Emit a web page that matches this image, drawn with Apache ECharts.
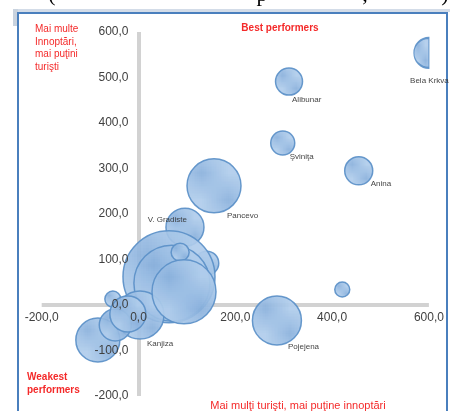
<!DOCTYPE html>
<html>
<head>
<meta charset="utf-8">
<script src="https://cdn.jsdelivr.net/npm/echarts@6/dist/echarts.min.js"></script>
<style>
html, body { margin: 0; padding: 0; background: #fff; }
#main { width: 450px; height: 411px; }
</style>
</head>
<body>
<div id="main"></div>
<script>
// bubble data (drawing order = overlap order)
var names = ['', 'V. Gradiste', '', '', '', 'Kanjiza', '', '', '', '', '',
    'Pancevo', 'Alibunar', 'Şviniţa', 'Anina', 'Bela Krkva', 'Pojejena', ''];
var xVals = [141, 96, 63, 69, 86, 3, -84, -48, -53, -22, 94,
    156, 311, 298, 455, 600, 286, 421];
var yVals = [92, 171, 62, 48, 116, -22, -77, -44, 13, -20, 29,
    262, 491, 356, 295, 554, -34, 34];
var sizes = [144, 361, 2116, 1444, 81, 576, 484, 256, 64, 324, 1024,
    729, 182, 144, 196, 225, 600, 56];

var xTicks = [-200, 0, 200, 400, 600];
var yTicks = [-200, -100, 0, 100, 200, 300, 400, 500, 600];

var FONT = '"Liberation Sans", Arial, sans-serif';
var RED = '#f42a2a';
var GRID = { left: 41.7, right: 21.1, top: 32, bottom: 15 };

// label placement per named bubble
var labelPlace = {
    'V. Gradiste': { pos: ['50%', '50%'], align: 'right', va: 'middle', offset: [2, -7] },
    'Kanjiza': { offset: [7, 0] },
    'Pancevo': { offset: [13, -2] },
    'Alibunar': { offset: [3, 0] },
    'Şviniţa': { offset: [7, -3] },
    'Anina': { offset: [12, -6] },
    'Bela Krkva': { pos: ['100%', '100%'], align: 'center', offset: [0, 8] },
    'Pojejena': { offset: [11, -3] }
};

// hatched fill
var pat = document.createElement('canvas');
pat.width = 4; pat.height = 4;
var pc = pat.getContext('2d');
pc.fillStyle = '#b0cdec';
pc.fillRect(0, 0, 4, 4);
pc.strokeStyle = 'rgba(100,150,205,0.5)';
pc.lineWidth = 1;
pc.beginPath();
pc.moveTo(-1, -1); pc.lineTo(5, 5);
pc.moveTo(-1, 3); pc.lineTo(1, 5);
pc.moveTo(3, -1); pc.lineTo(5, 1);
pc.stroke();

var xMax = xTicks[xTicks.length - 1];

var bubbles = names.map(function (n, i) {
    var d = 2 * Math.sqrt(sizes[i]);
    var item = { name: n, value: [xVals[i], yVals[i], sizes[i]] };
    if (xVals[i] >= xMax) {
        // cut at the plot edge
        item.symbol = 'path://M20,0 A20,20 0 0,0 20,40 Z';
        item.symbolSize = [d / 2, d];
        item.symbolOffset = [-d / 4, 0];
    }
    if (n) {
        var lp = labelPlace[n] || {};
        item.label = {
            show: true,
            position: lp.pos || ['50%', '100%'],
            align: lp.align || 'left',
            verticalAlign: lp.va || 'top',
            offset: lp.offset || [0, 0]
        };
    }
    return item;
});

function fmt(v) { return v.toFixed(1).replace('.', ','); }

var chart = echarts.init(document.getElementById('main'));

var labelStyle = { formatter: fmt, color: '#404040', fontSize: 12, fontFamily: FONT };

chart.setOption({
    animation: false,
    grid: Object.assign({ outerBoundsMode: 'none', containLabel: false }, GRID),
    xAxis: {
        type: 'value',
        min: xTicks[0], max: xMax, interval: 200,
        splitLine: { show: false },
        axisTick: { show: false },
        axisLine: { show: false, onZero: false },
        axisLabel: Object.assign({ margin: 7 }, labelStyle),
        z: 10
    },
    yAxis: {
        type: 'value',
        min: yTicks[0], max: yTicks[yTicks.length - 1], interval: 100,
        splitLine: { show: false },
        axisTick: { show: false },
        axisLine: { show: false, onZero: false },
        axisLabel: Object.assign({ margin: 10 }, labelStyle),
        z: 10
    },
    series: [{
        // grey cross through the origin, under the bubbles
        type: 'scatter',
        data: [],
        z: 1,
        markLine: {
            z: 1,
            silent: true,
            symbol: 'none',
            animation: false,
            label: { show: false },
            lineStyle: { color: '#d2d2d2', width: 4, type: 'solid' },
            data: [{ xAxis: 0 }, { yAxis: 0 }]
        }
    }, {
        type: 'scatter',
        z: 2,
        data: bubbles,
        symbolSize: function (v) { return 2 * Math.sqrt(v[2]); },
        itemStyle: {
            color: { image: pat, repeat: 'repeat' },
            borderColor: '#5b90c8',
            borderWidth: 1.5,
            opacity: 0.92
        },
        label: {
            show: false,
            formatter: '{b}',
            color: '#333',
            fontSize: 8,
            fontFamily: FONT
        },
        emphasis: { disabled: true }
    }],
    graphic: [
        { type: 'rect', shape: { x: 13, y: 9, width: 437, height: 3 }, style: { fill: '#d3dce8' }, silent: true },
        { type: 'rect', shape: { x: 13, y: 9, width: 5, height: 17 }, style: { fill: '#c9d3df' }, silent: true },
        { type: 'rect', shape: { x: 18, y: 13, width: 429, height: 420 }, style: { fill: 'none', stroke: '#4a7fbd', lineWidth: 2 }, silent: true },
        { type: 'text', x: 52, y: -5, style: { text: '(', font: '22px "Liberation Serif"', fill: '#000', textAlign: 'center', align: 'center', textVerticalAlign: 'middle', verticalAlign: 'middle' } },
        { type: 'text', x: 262, y: -5, style: { text: 'p', font: '22px "Liberation Serif"', fill: '#000', textAlign: 'center', align: 'center', textVerticalAlign: 'middle', verticalAlign: 'middle' } },
        { type: 'text', x: 365, y: -5, style: { text: ',', font: '22px "Liberation Serif"', fill: '#000', textAlign: 'center', align: 'center', textVerticalAlign: 'middle', verticalAlign: 'middle' } },
        { type: 'text', x: 445, y: -5, style: { text: ')', font: '22px "Liberation Serif"', fill: '#000', textAlign: 'center', align: 'center', textVerticalAlign: 'middle', verticalAlign: 'middle' } },
        {
            type: 'text', x: 35, y: 23, z: 20,
            style: { text: 'Mai multe\nInnoptări,\nmai puţini\nturişti', font: '10px ' + FONT, lineHeight: 12.5, fill: RED }
        },
        {
            type: 'text', x: 280, y: 28, z: 20,
            style: { text: 'Best performers', font: 'bold 10px ' + FONT, fill: RED, textAlign: 'center', align: 'center', textVerticalAlign: 'middle', verticalAlign: 'middle' }
        },
        {
            type: 'text', x: 27, y: 371, z: 20,
            style: { text: 'Weakest\nperformers', font: 'bold 10px ' + FONT, lineHeight: 13, fill: RED }
        },
        {
            type: 'text', x: 298, y: 406, z: 20,
            style: { text: 'Mai mulţi turişti, mai puţine innoptări', font: '11px ' + FONT, fill: RED, textAlign: 'center', align: 'center', textVerticalAlign: 'middle', verticalAlign: 'middle' }
        }
    ]
});

// move the tick labels onto the axes crossing at the origin
var zeroX = chart.convertToPixel({ xAxisIndex: 0 }, 0);
var zeroY = chart.convertToPixel({ yAxisIndex: 0 }, 0);
chart.setOption({
    yAxis: { offset: -(zeroX - GRID.left) },
    xAxis: { offset: -((411 - GRID.bottom) - zeroY) }
});
</script>
</body>
</html>
